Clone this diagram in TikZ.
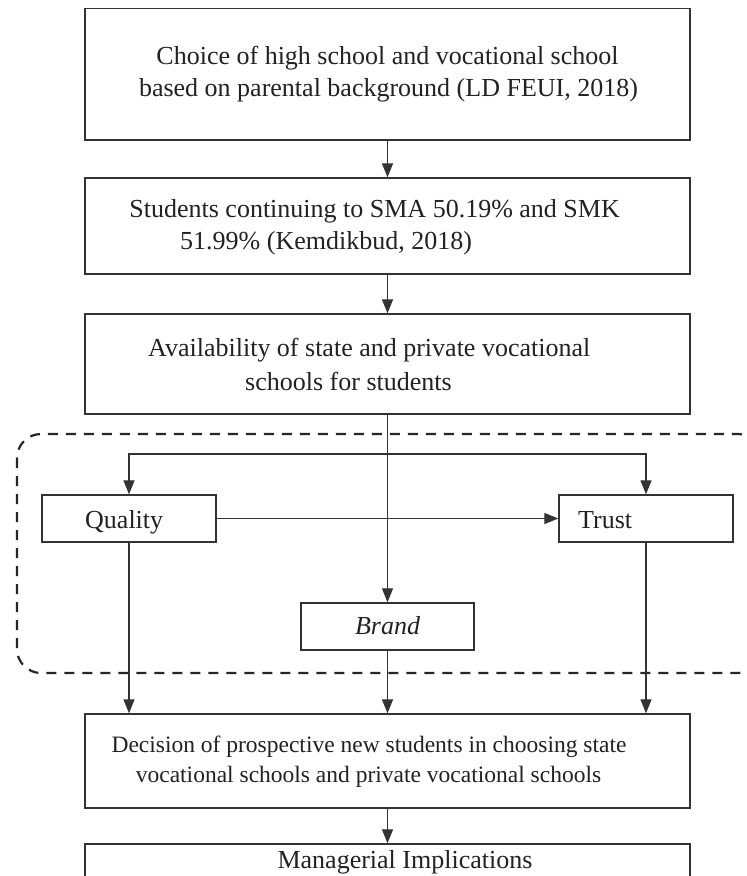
\documentclass[tikz,border=0pt]{standalone}
\usepackage{fontspec}
\setmainfont{Liberation Serif}
\usetikzlibrary{arrows.meta}
\definecolor{ink}{HTML}{222222}
\definecolor{edge}{HTML}{333333}
\tikzset{
  box/.style={draw=edge, line width=1.4pt, inner sep=0pt, rectangle},
  txt/.style={text=ink, inner sep=0pt, font=\fontsize{26}{32}\selectfont},
  smalltxt/.style={text=ink, inner sep=0pt, font=\fontsize{23.5}{30}\selectfont},
  arr/.style={draw=edge, line width=1.2pt, -{Triangle[length=14pt,width=11pt]}},
  link/.style={draw=edge, line width=1.2pt},
  frame/.style={draw=black!85, line width=2.2pt, dash pattern=on 10pt off 8pt, rounded corners=24pt}
}
\begin{document}
\begin{tikzpicture}[x=1pt, y=-1pt]
\clip (0,0) rectangle (747,876);
\fill[white] (0,0) rectangle (747,876);

% dashed grouping frame around the three factors
\draw[frame] (17,434) rectangle (762,673);

% main flow boxes
\node[box, minimum width=605pt, minimum height=131.4pt] (b1) at (387.5,74.3) {};
\node[box, minimum width=605pt, minimum height=96pt] (b2) at (387.5,226) {};
\node[box, minimum width=605pt, minimum height=100pt] (b3) at (387.5,364) {};
\node[box, minimum width=605pt, minimum height=94pt] (dec) at (387.5,761) {};
\node[box, minimum width=605pt, minimum height=66pt] (mgr) at (387.5,877) {};

% factor boxes
\node[box, minimum width=174pt, minimum height=47pt] (q) at (129,518.5) {};
\node[box, minimum width=174pt, minimum height=47pt] (t) at (646,518.5) {};
\node[box, minimum width=173pt, minimum height=47pt] (br) at (387.5,626.5) {};

% box texts
\node[txt, anchor=base] (b1a) at (387.5,64) {Choice of high school and vocational school};
\node[txt, anchor=base] (b1b) at (388.5,96) {based on parental background (LD FEUI, 2018)};
\node[txt, anchor=base east] (b2a) at (620,217) {Students continuing to SMA 50.19\% and SMK};
\node[txt, anchor=base west] (b2b) at (180,249) {51.99\% (Kemdikbud, 2018)};
\node[txt, anchor=base west] (b3a) at (148,356) {Availability of state and private vocational};
\node[txt, anchor=base west] (b3b) at (245,390) {schools for students};
\node[txt, anchor=base west] (qt) at (85,528) {Quality};
\node[txt, anchor=base west] (tt) at (578,528) {Trust};
\node[txt, anchor=base] (brt) at (387.5,634) {\itshape Brand};
\node[smalltxt, anchor=base] (deca) at (369,752) {Decision of prospective new students in choosing state};
\node[smalltxt, anchor=base] (decb) at (368.5,782) {vocational schools and private vocational schools};
\node[txt, anchor=base] (mgrt) at (405,868) {Managerial Implications};

% connectors
\coordinate (split) at (387.5,454);
\draw[arr] (b1) -- (b2);
\draw[arr] (b2) -- (b3);
\draw[arr] (b3) -- (br);
\draw[arr] (split) -| (q);
\draw[arr] (split) -| (t);
\draw[arr] (q) -- (t);
\draw[arr] (q.south) -- (q.south |- dec.north);
\draw[arr] (br) -- (dec);
\draw[arr] (t.south) -- (t.south |- dec.north);
\draw[arr] (dec) -- (mgr);
\end{tikzpicture}
\end{document}
